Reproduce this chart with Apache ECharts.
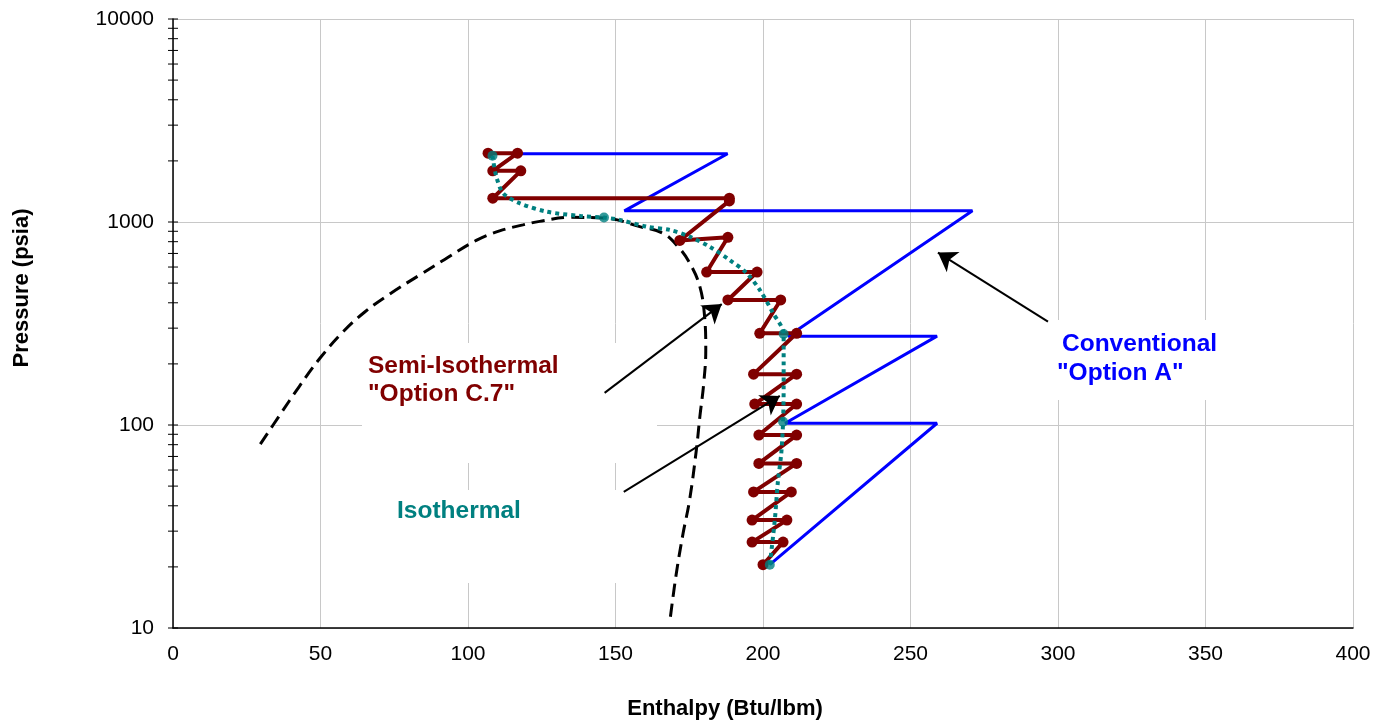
<!DOCTYPE html>
<html>
<head>
<meta charset="utf-8">
<script src="https://cdn.jsdelivr.net/npm/echarts@6/dist/echarts.min.js"></script>
<style>
  html, body { margin: 0; padding: 0; background: #fff; }
  #chart { width: 1376px; height: 723px; }
</style>
</head>
<body>
<div id="chart"></div>
<script>
// conventional "Option A" (enthalpy, pressure)
var convH = [202.3, 259, 207.5, 259, 208.5, 271, 153, 188, 118]
var convP = [20.5, 102, 102, 274, 274, 1135, 1135, 2170, 2170]

// semi-isothermal "Option C.7"
var semiH = [200, 206.8, 196.3, 208.1, 196.3, 209.6, 196.8, 211.4, 198.6, 211.4, 198.6, 211.4, 197.2, 211.4, 196.8,
  211.4, 198.9, 206, 188.1, 198, 180.9, 188.1, 171.8, 188.6, 188.6, 108.4, 117.9, 108.4, 116.8, 106.8]
var semiP = [20.5, 26.5, 26.5, 34, 34, 46.8, 46.8, 64.7, 64.7, 89.2, 89.2, 126.8, 126.8, 178, 178,
  283, 283, 413, 413, 567, 567, 841, 811, 1270, 1310, 1310, 1786, 1786, 2184, 2184]

// isothermal curve (traced) and its markers
var isoH = [202.3, 204.0, 205.0, 206.2, 206.8, 207.0, 207.0, 207.0, 203.4, 198.9, 194.4, 188.7, 181.9, 175.1,
  168.4, 160.5, 151.4, 146.1, 137.9, 126.6, 117.5, 111.9, 109.6, 108.5, 108.3]
var isoP = [20.5, 34, 51.7, 72.7, 103.7, 154, 226, 281, 356, 463, 561, 650, 756, 847,
  914, 949, 1024, 1052, 1072, 1125, 1238, 1387, 1674, 2024, 2118]
var isoMarkH = [202.3, 206.8, 207.0, 146.1, 108.3]
var isoMarkP = [20.5, 103.7, 281, 1052, 2118]

// saturation dome
var domeH = [29.6, 36.2, 42.9, 50.0, 57.6, 65.0, 73.5, 83.6, 92.1, 102.8, 110.7, 118.6, 124.3, 134.5, 146.9,
  158.2, 166.1, 171.2, 175.2, 178.6, 180.2, 180.6, 179.9, 178.6, 177.4, 175.1, 172.9, 170.6, 168.6]
var domeP = [80.5, 111.9, 155.6, 214.9, 287.2, 360.4, 442.1, 548, 654, 811.7, 904, 968, 1007, 1054, 1044,
  949, 880, 756, 626, 480, 342, 234, 160, 110, 75.2, 42.6, 29.2, 18.5, 11.3]

// annotation arrows (tail -> head)
var arrowFromH = [296.6, 146.3, 152.8]
var arrowFromP = [323, 144, 46.8]
var arrowToH = [259.3, 186, 205.7]
var arrowToP = [707, 394, 139]

// y axis tick marks
var yTicks = [10, 20, 30, 40, 50, 60, 70, 80, 90, 100, 200, 300, 400, 500, 600, 700, 800, 900,
  1000, 2000, 3000, 4000, 5000, 6000, 7000, 8000, 9000, 10000]

function pairs(xs, ys){
    var out = []
    for (var i = 0; i < xs.length; i++) out.push([xs[i], ys[i]])
    return out
}

var arrowData = []
for (var i = 0; i < arrowFromH.length; i++) {
    arrowData.push({ coords: [[arrowFromH[i], arrowFromP[i]], [arrowToH[i], arrowToP[i]]] })
}

var font = '"Liberation Sans", Arial, sans-serif'
var chart = echarts.init(document.getElementById('chart'))

var option = {
    animation: false,
    backgroundColor: '#fff',
    grid: { left: 173, right: 23, top: 19, bottom: 95 },
    xAxis: {
        type: 'value',
        min: 0,
        max: 400,
        interval: 50,
        axisLine: { lineStyle: { color: '#000', width: 1.5 } },
        axisTick: { show: false },
        splitLine: { lineStyle: { color: '#c8c8c8', width: 1 } },
        axisLabel: { color: '#000', fontSize: 21, fontFamily: font, margin: 16 }
    },
    yAxis: {
        type: 'log',
        logBase: 10,
        min: 10,
        max: 10000,
        axisLine: { show: true, lineStyle: { color: '#000', width: 1.5 } },
        axisTick: { show: false },
        splitLine: { lineStyle: { color: '#c8c8c8', width: 1 } },
        axisLabel: {
            color: '#000', fontSize: 21, fontFamily: font, margin: 19,
            formatter: function (v) { return String(Math.round(v)) }
        }
    },
    graphic: [
        { type: 'rect', z: 1, shape: { x: 362, y: 343, width: 295, height: 120 }, style: { fill: '#fff' } },
        { type: 'rect', z: 1, shape: { x: 362, y: 490, width: 295, height: 93 }, style: { fill: '#fff' } },
        { type: 'rect', z: 1, shape: { x: 1050, y: 320, width: 210, height: 80 }, style: { fill: '#fff' } },
        { type: 'text', z: 1, x: 368, y: 366, style: { text: 'Semi-Isothermal', fill: '#800000', font: 'bold 24.5px ' + font, verticalAlign: 'middle' } },
        { type: 'text', z: 1, x: 368, y: 394, style: { text: '"Option C.7"', fill: '#800000', font: 'bold 24.5px ' + font, verticalAlign: 'middle' } },
        { type: 'text', z: 1, x: 397, y: 511, style: { text: 'Isothermal', fill: '#008080', font: 'bold 24.5px ' + font, verticalAlign: 'middle' } },
        { type: 'text', z: 1, x: 1062, y: 344, style: { text: 'Conventional', fill: '#0000ff', font: 'bold 24.5px ' + font, verticalAlign: 'middle' } },
        { type: 'text', z: 1, x: 1057, y: 373, style: { text: '"Option A"', fill: '#0000ff', font: 'bold 24.5px ' + font, verticalAlign: 'middle' } },
        { type: 'text', x: 725, y: 709, style: { text: 'Enthalpy (Btu/lbm)', fill: '#000', font: 'bold 22px ' + font, align: 'center', verticalAlign: 'middle' } },
        { type: 'text', x: 22, y: 288, rotation: Math.PI / 2, style: { text: 'Pressure (psia)', fill: '#000', font: 'bold 22px ' + font, align: 'center', verticalAlign: 'middle' } }
    ],
    series: [
        {
            name: 'Saturation',
            type: 'line',
            data: pairs(domeH, domeP),
            smooth: 0.4,
            symbol: 'none',
            lineStyle: { color: '#000', width: 3, type: [13, 7] },
            z: 2
        },
        {
            name: 'Conventional',
            type: 'line',
            data: pairs(convH, convP),
            symbol: 'none',
            lineStyle: { color: '#0000ff', width: 3 },
            z: 3
        },
        {
            name: 'Semi-Isothermal',
            type: 'line',
            data: pairs(semiH, semiP),
            symbol: 'circle',
            symbolSize: 11,
            itemStyle: { color: '#800000' },
            lineStyle: { color: '#800000', width: 4 },
            z: 4
        },
        {
            name: 'Isothermal',
            type: 'line',
            data: pairs(isoH, isoP),
            smooth: 0.3,
            symbol: 'none',
            lineStyle: { color: '#008080', width: 4, type: [4, 4] },
            z: 5
        },
        {
            name: 'Isothermal points',
            type: 'scatter',
            data: pairs(isoMarkH, isoMarkP),
            symbol: 'circle',
            symbolSize: 10,
            itemStyle: { color: '#008080' },
            z: 5
        },
        {
            name: 'Arrows',
            type: 'lines',
            coordinateSystem: 'cartesian2d',
            data: arrowData,
            symbol: ['none', 'arrow'],
            symbolSize: 18,
            lineStyle: { color: '#000', width: 2, opacity: 1 },
            z: 6
        },
        {
            name: 'yticks',
            type: 'custom',
            clip: false,
            silent: true,
            data: yTicks.map(function (v) { return [0, v] }),
            encode: { x: 0, y: 1 },
            renderItem: function (params, api) {
                var p = api.coord([api.value(0), api.value(1)])
                return {
                    type: 'line',
                    shape: { x1: p[0] - 5, y1: p[1], x2: p[0] + 5, y2: p[1] },
                    style: { stroke: '#000', lineWidth: 1 }
                }
            },
            z: 7
        }
    ]
}
option && chart.setOption(option)
</script>
</body>
</html>
